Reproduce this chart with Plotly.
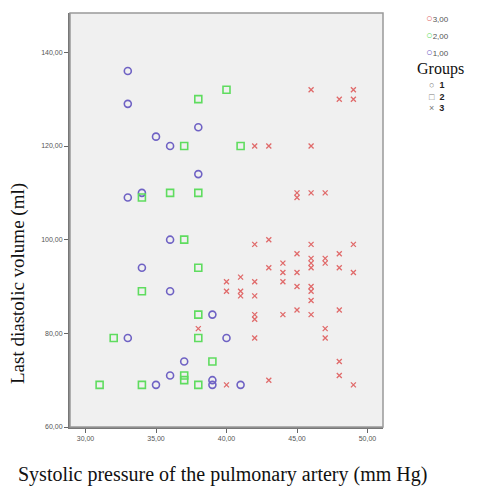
import plotly.graph_objects as go

# Group 1 (blue circles)
g1_x = [33, 33, 38, 35, 36, 38, 33, 34, 36, 34, 36, 39, 33, 40, 37, 36, 35, 39, 39, 41]
g1_y = [136, 129, 124, 122, 120, 114, 109, 110, 100, 94, 89, 84, 79, 79, 74, 71, 69, 70, 69, 69]

# Group 2 (green squares)
g2_x = [38, 40, 37, 41, 34, 36, 38, 37, 38, 34, 38, 32, 38, 39, 37, 37, 31, 34, 38]
g2_y = [130, 132, 120, 120, 109, 110, 110, 100, 94, 89, 84, 79, 79, 74, 71, 70, 69, 69, 69]

# Group 3 (red crosses)
g3_x = [46, 49, 48, 49, 42, 43, 46,
        45, 45, 46, 47,
        42, 43, 46, 49, 45, 48,
        46, 46, 46, 47, 47, 43, 44, 44, 44, 45, 48, 49,
        41, 40, 40, 41, 41, 42, 42,
        45, 46, 46, 46,
        42, 42, 44, 45, 46, 48,
        38, 42, 47, 47,
        48, 48, 40, 43, 49]
g3_y = [132, 132, 130, 130, 120, 120, 120,
        110, 109, 110, 110,
        99, 100, 99, 99, 97, 97,
        96, 95, 94, 96, 95, 94, 95, 93, 91, 93, 94, 93,
        92, 91, 89, 89, 88, 91, 88,
        90, 90, 89, 87,
        84, 83, 84, 85, 84, 85,
        81, 79, 81, 79,
        74, 71, 69, 70, 69]

x_ticks = [30, 35, 40, 45, 50]
x_tick_labels = ["30,00", "35,00", "40,00", "45,00", "50,00"]
y_ticks = [60, 80, 100, 120, 140]
y_tick_labels = ["60,00", "80,00", "100,00", "120,00", "140,00"]

color_legend_labels = ["3,00", "2,00", "1,00"]
group_symbols = ["○", "□", "×"]
group_labels = ["1", "2", "3"]

BLUE = "#6f62c4"
GREEN = "#5fdc5f"
RED = "#e06a6a"

fig = go.Figure()
fig.add_trace(go.Scatter(x=g1_x, y=g1_y, mode="markers", name="1",
                         marker=dict(symbol="circle-open", size=7, color=BLUE, line=dict(width=1.6))))
fig.add_trace(go.Scatter(x=g2_x, y=g2_y, mode="markers", name="2",
                         marker=dict(symbol="square-open", size=7, color=GREEN, line=dict(width=1.6))))
fig.add_trace(go.Scatter(x=g3_x, y=g3_y, mode="markers", name="3",
                         marker=dict(symbol="x-thin-open", size=5, color=RED, line=dict(width=1.3, color=RED))))

axis_common = dict(showgrid=False, zeroline=False, ticks="outside", ticklen=4, tickcolor="#666",
                   tickwidth=1, tickfont=dict(family="Liberation Sans", size=7, color="#555"),
                   showline=True, linecolor="#777", linewidth=2)

fig.update_xaxes(range=[28.9, 51.1], tickvals=x_ticks, ticktext=x_tick_labels, **axis_common)
fig.update_yaxes(range=[60, 148.4], tickvals=y_ticks, ticktext=y_tick_labels, **axis_common)

fig.add_shape(type="rect", xref="paper", yref="paper", x0=0, y0=0, x1=1, y1=1,
              line=dict(color="#999", width=1.5), fillcolor="rgba(0,0,0,0)", layer="above")

PW, PH, L, T = 313, 414, 70, 13


def px(xp):
    return (xp - L) / PW


def py(yp):
    return (T + PH - yp) / PH


annotations = [
    dict(text="Last diastolic volume (ml)", xref="paper", yref="paper", x=px(18), y=py(284),
         textangle=-90, showarrow=False, xanchor="center", yanchor="middle",
         font=dict(family="Liberation Serif", size=19, color="#111")),
    dict(text="Systolic pressure of the pulmonary artery (mm Hg)", xref="paper", yref="paper",
         x=px(16), y=py(474), showarrow=False, xanchor="left", yanchor="middle",
         font=dict(family="Liberation Serif", size=20, color="#111")),
]

for lab, col, ypx in zip(color_legend_labels, [RED, GREEN, BLUE], [18, 35, 52]):
    annotations.append(dict(
        text=f'<span style="color:{col};font-size:11px">○</span>{lab}', xref="paper", yref="paper",
        x=px(424), y=py(ypx), showarrow=False, xanchor="left", yanchor="middle",
        font=dict(family="Liberation Sans", size=8, color="#555")))

annotations.append(dict(text="Groups", xref="paper", yref="paper", x=px(415), y=py(69),
                        showarrow=False, xanchor="left", yanchor="middle",
                        font=dict(family="Liberation Serif", size=16, color="#111")))

group_text = "<br>".join(f'<span style="color:#777">{s}</span>  <b>{g}</b>'
                         for s, g in zip(group_symbols, group_labels))
annotations.append(dict(text=group_text, xref="paper", yref="paper", x=px(427), y=py(96),
                        showarrow=False, xanchor="left", yanchor="middle", align="left",
                        font=dict(family="Liberation Sans", size=9, color="#222")))

fig.update_layout(
    width=478, height=488,
    margin=dict(l=L, r=478 - L - PW, t=T, b=488 - T - PH),
    plot_bgcolor="#f0f0f0", paper_bgcolor="white",
    showlegend=False,
    annotations=annotations,
)

fig.write_html("out.html", config={"displayModeBar": False},
               post_script="document.body.style.margin='0';")
